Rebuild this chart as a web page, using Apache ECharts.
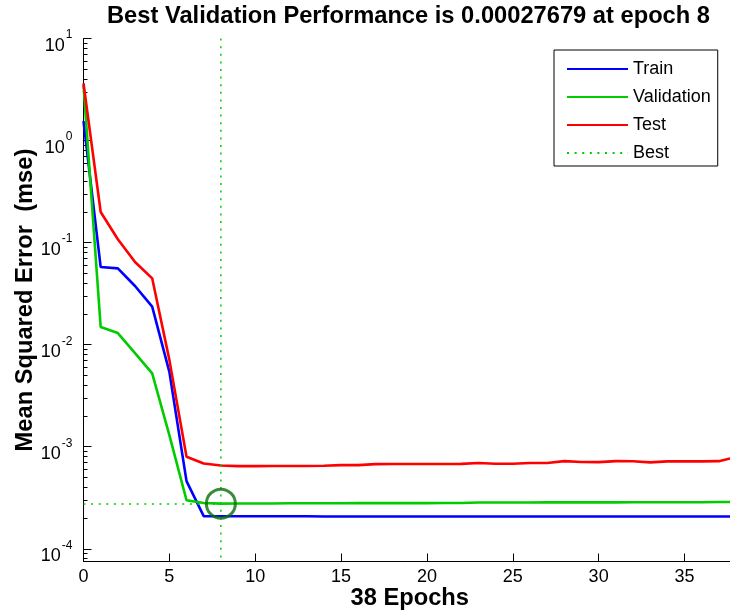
<!DOCTYPE html>
<html>
<head>
<meta charset="utf-8">
<title>Best Validation Performance</title>
<script src="https://cdn.jsdelivr.net/npm/echarts@6/dist/echarts.min.js"></script>
<style>
  html, body { margin: 0; padding: 0; background: #fff; }
  #chart { width: 730px; height: 615px; }
</style>
</head>
<body>
<div id="chart"></div>
<script>
// Training record: mean squared error per epoch
const epochs = [0, 1, 2, 3, 4, 5, 6, 7, 8, 9, 10, 11, 12, 13, 14, 15, 16, 17, 18, 19,
  20, 21, 22, 23, 24, 25, 26, 27, 28, 29, 30, 31, 32, 33, 34, 35, 36, 37, 38];

const trainMse = [1.55, 0.0577, 0.0560, 0.0376, 0.0236, 0.00542, 0.00046, 0.000209, 0.000208,
  0.000208, 0.000208, 0.000208, 0.000208, 0.000208, 0.000207, 0.000207, 0.000207, 0.000207,
  0.000207, 0.000207, 0.000207, 0.000207, 0.000207, 0.000207, 0.000207, 0.000207, 0.000207,
  0.000207, 0.000207, 0.000207, 0.000207, 0.000207, 0.000207, 0.000207, 0.000207, 0.000207,
  0.000207, 0.000207, 0.000207];

const validationMse = [3.5, 0.0149, 0.0130, 0.00828, 0.00524, 0.0013, 0.000299, 0.000281, 0.00027679,
  0.000278, 0.000278, 0.000278, 0.000279, 0.000279, 0.000279, 0.000279, 0.00028, 0.00028,
  0.00028, 0.00028, 0.00028, 0.000281, 0.000281, 0.000284, 0.000284, 0.000284, 0.000284,
  0.000285, 0.000285, 0.000285, 0.000285, 0.000285, 0.000286, 0.000286, 0.000286, 0.000286,
  0.000286, 0.000287, 0.000287];

const testMse = [3.65, 0.2, 0.108, 0.0646, 0.0447, 0.0071, 0.000796, 0.000685, 0.000654,
  0.000646, 0.000646, 0.000647, 0.000648, 0.000648, 0.00065, 0.00066, 0.00066, 0.000675,
  0.000676, 0.000677, 0.000677, 0.000678, 0.000679, 0.000692, 0.00068, 0.000681, 0.000692,
  0.000693, 0.000722, 0.000708, 0.000706, 0.000722, 0.00072, 0.000703, 0.000718, 0.000718,
  0.000719, 0.000722, 0.000792];

const bestEpoch = 8;
const bestPerf = 0.00027679;
const maxEpoch = 38;

const yMin = 7.5e-5;
const yMax = 10;
const xTickValues = [0, 5, 10, 15, 20, 25, 30, 35];
const yDecadeValues = [1e-4, 1e-3, 1e-2, 1e-1, 1, 10];

// minor ticks at 2..9 within each decade
const yMinorValues = [];
for (let n = -5; n <= 0; n++) {
  for (let k = 2; k <= 9; k++) {
    const v = k * Math.pow(10, n);
    if (v >= yMin && v <= yMax) yMinorValues.push(v);
  }
}

const FONT = "'Liberation Sans', Arial, Helvetica, sans-serif";
const GREEN = '#00cc00';
const dotted = [2, 5.6];

function pairs(values) {
  return epochs.map((e, i) => [e, values[i]]);
}

const chart = echarts.init(document.getElementById('chart'), null, { renderer: 'canvas' });

chart.setOption({
  animation: false,
  backgroundColor: '#ffffff',
  title: {
    text: 'Best Validation Performance is ' + bestPerf + ' at epoch ' + bestEpoch,
    left: 107,
    top: 4,
    padding: 0,
    textStyle: { fontFamily: FONT, fontSize: 23.7, fontWeight: 'bold', color: '#000' }
  },
  legend: {
    data: ['Train', 'Validation', 'Test', 'Best'],
    orient: 'vertical',
    left: 554,
    top: 50,
    itemWidth: 61,
    itemHeight: 14,
    itemGap: 10,
    padding: [10, 7, 4, 12],
    borderColor: '#000',
    borderWidth: 1,
    backgroundColor: '#fff',
    itemStyle: { opacity: 0 },
    textStyle: { fontFamily: FONT, fontSize: 18, color: '#000' }
  },
  grid: {
    left: 83.5,
    top: 38.6,
    right: -6,
    bottom: 53.5,
    containLabel: false,
    outerBoundsMode: 'none'
  },
  xAxis: {
    type: 'value',
    min: 0,
    max: maxEpoch,
    interval: 5,
    name: maxEpoch + ' Epochs',
    nameLocation: 'middle',
    nameGap: 25,
    nameMoveOverlap: false,
    nameTextStyle: { fontFamily: FONT, fontSize: 23.7, fontWeight: 'bold', color: '#000' },
    axisLine: { show: true, lineStyle: { color: '#000', width: 1 } },
    axisTick: { show: true, inside: true, length: 8, customValues: xTickValues, lineStyle: { color: '#000' } },
    axisLabel: { customValues: xTickValues, margin: 7, fontFamily: FONT, fontSize: 18, color: '#000' },
    splitLine: { show: false }
  },
  yAxis: [
    {
      type: 'log',
      logBase: 10,
      min: yMin,
      max: yMax,
      name: 'Mean Squared Error  (mse)',
      nameLocation: 'middle',
      nameGap: 46,
      nameMoveOverlap: false,
      nameTextStyle: { fontFamily: FONT, fontSize: 23.7, fontWeight: 'bold', color: '#000' },
      axisLine: { show: true, lineStyle: { color: '#000', width: 1 } },
      axisTick: { show: true, inside: true, length: 8, customValues: yDecadeValues, lineStyle: { color: '#000' } },
      axisLabel: {
        customValues: yDecadeValues,
        margin: 11,
        padding: [7, 0, 0, 0],
        formatter: function (v) {
          const p = Math.round(Math.log10(v));
          return '{b|10}{s|' + p + '}';
        },
        rich: {
          b: { fontFamily: FONT, fontSize: 18, color: '#000', lineHeight: 26, verticalAlign: 'bottom', padding: [0, 1, 0, 0] },
          s: { fontFamily: FONT, fontSize: 12, color: '#000', lineHeight: 26, verticalAlign: 'top' }
        }
      },
      splitLine: { show: false }
    },
    {
      type: 'log',
      logBase: 10,
      min: yMin,
      max: yMax,
      position: 'left',
      offset: 0,
      axisLine: { show: false },
      axisTick: { show: true, inside: true, length: 4, customValues: yMinorValues, lineStyle: { color: '#000' } },
      axisLabel: { show: false },
      splitLine: { show: false }
    }
  ],
  series: [
    {
      name: 'Train',
      type: 'line',
      data: pairs(trainMse),
      symbol: 'none',
      color: '#0000ff',
      lineStyle: { color: '#0000ff', width: 2.6 }
    },
    {
      name: 'Validation',
      type: 'line',
      data: pairs(validationMse),
      symbol: 'none',
      color: GREEN,
      lineStyle: { color: GREEN, width: 2.6 }
    },
    {
      name: 'Test',
      type: 'line',
      data: pairs(testMse),
      symbol: 'none',
      color: '#ff0000',
      lineStyle: { color: '#ff0000', width: 2.6 }
    },
    {
      name: 'Best',
      type: 'line',
      data: [[bestEpoch, yMax], [bestEpoch, yMin]],
      symbol: 'none',
      color: GREEN,
      lineStyle: { color: GREEN, width: 1.5, type: dotted },
      markLine: {
        silent: true,
        symbol: 'none',
        label: { show: false },
        lineStyle: { color: GREEN, width: 1.5, type: dotted },
        data: [[{ coord: [0, bestPerf] }, { coord: [bestEpoch, bestPerf] }]]
      }
    },
    {
      name: 'bestMarker',
      type: 'scatter',
      data: [[bestEpoch, bestPerf]],
      symbol: 'circle',
      symbolSize: 29,
      itemStyle: { color: 'rgba(0,0,0,0)', borderColor: '#0b6e0b', borderWidth: 3 },
      z: 5
    }
  ]
});
</script>
</body>
</html>
